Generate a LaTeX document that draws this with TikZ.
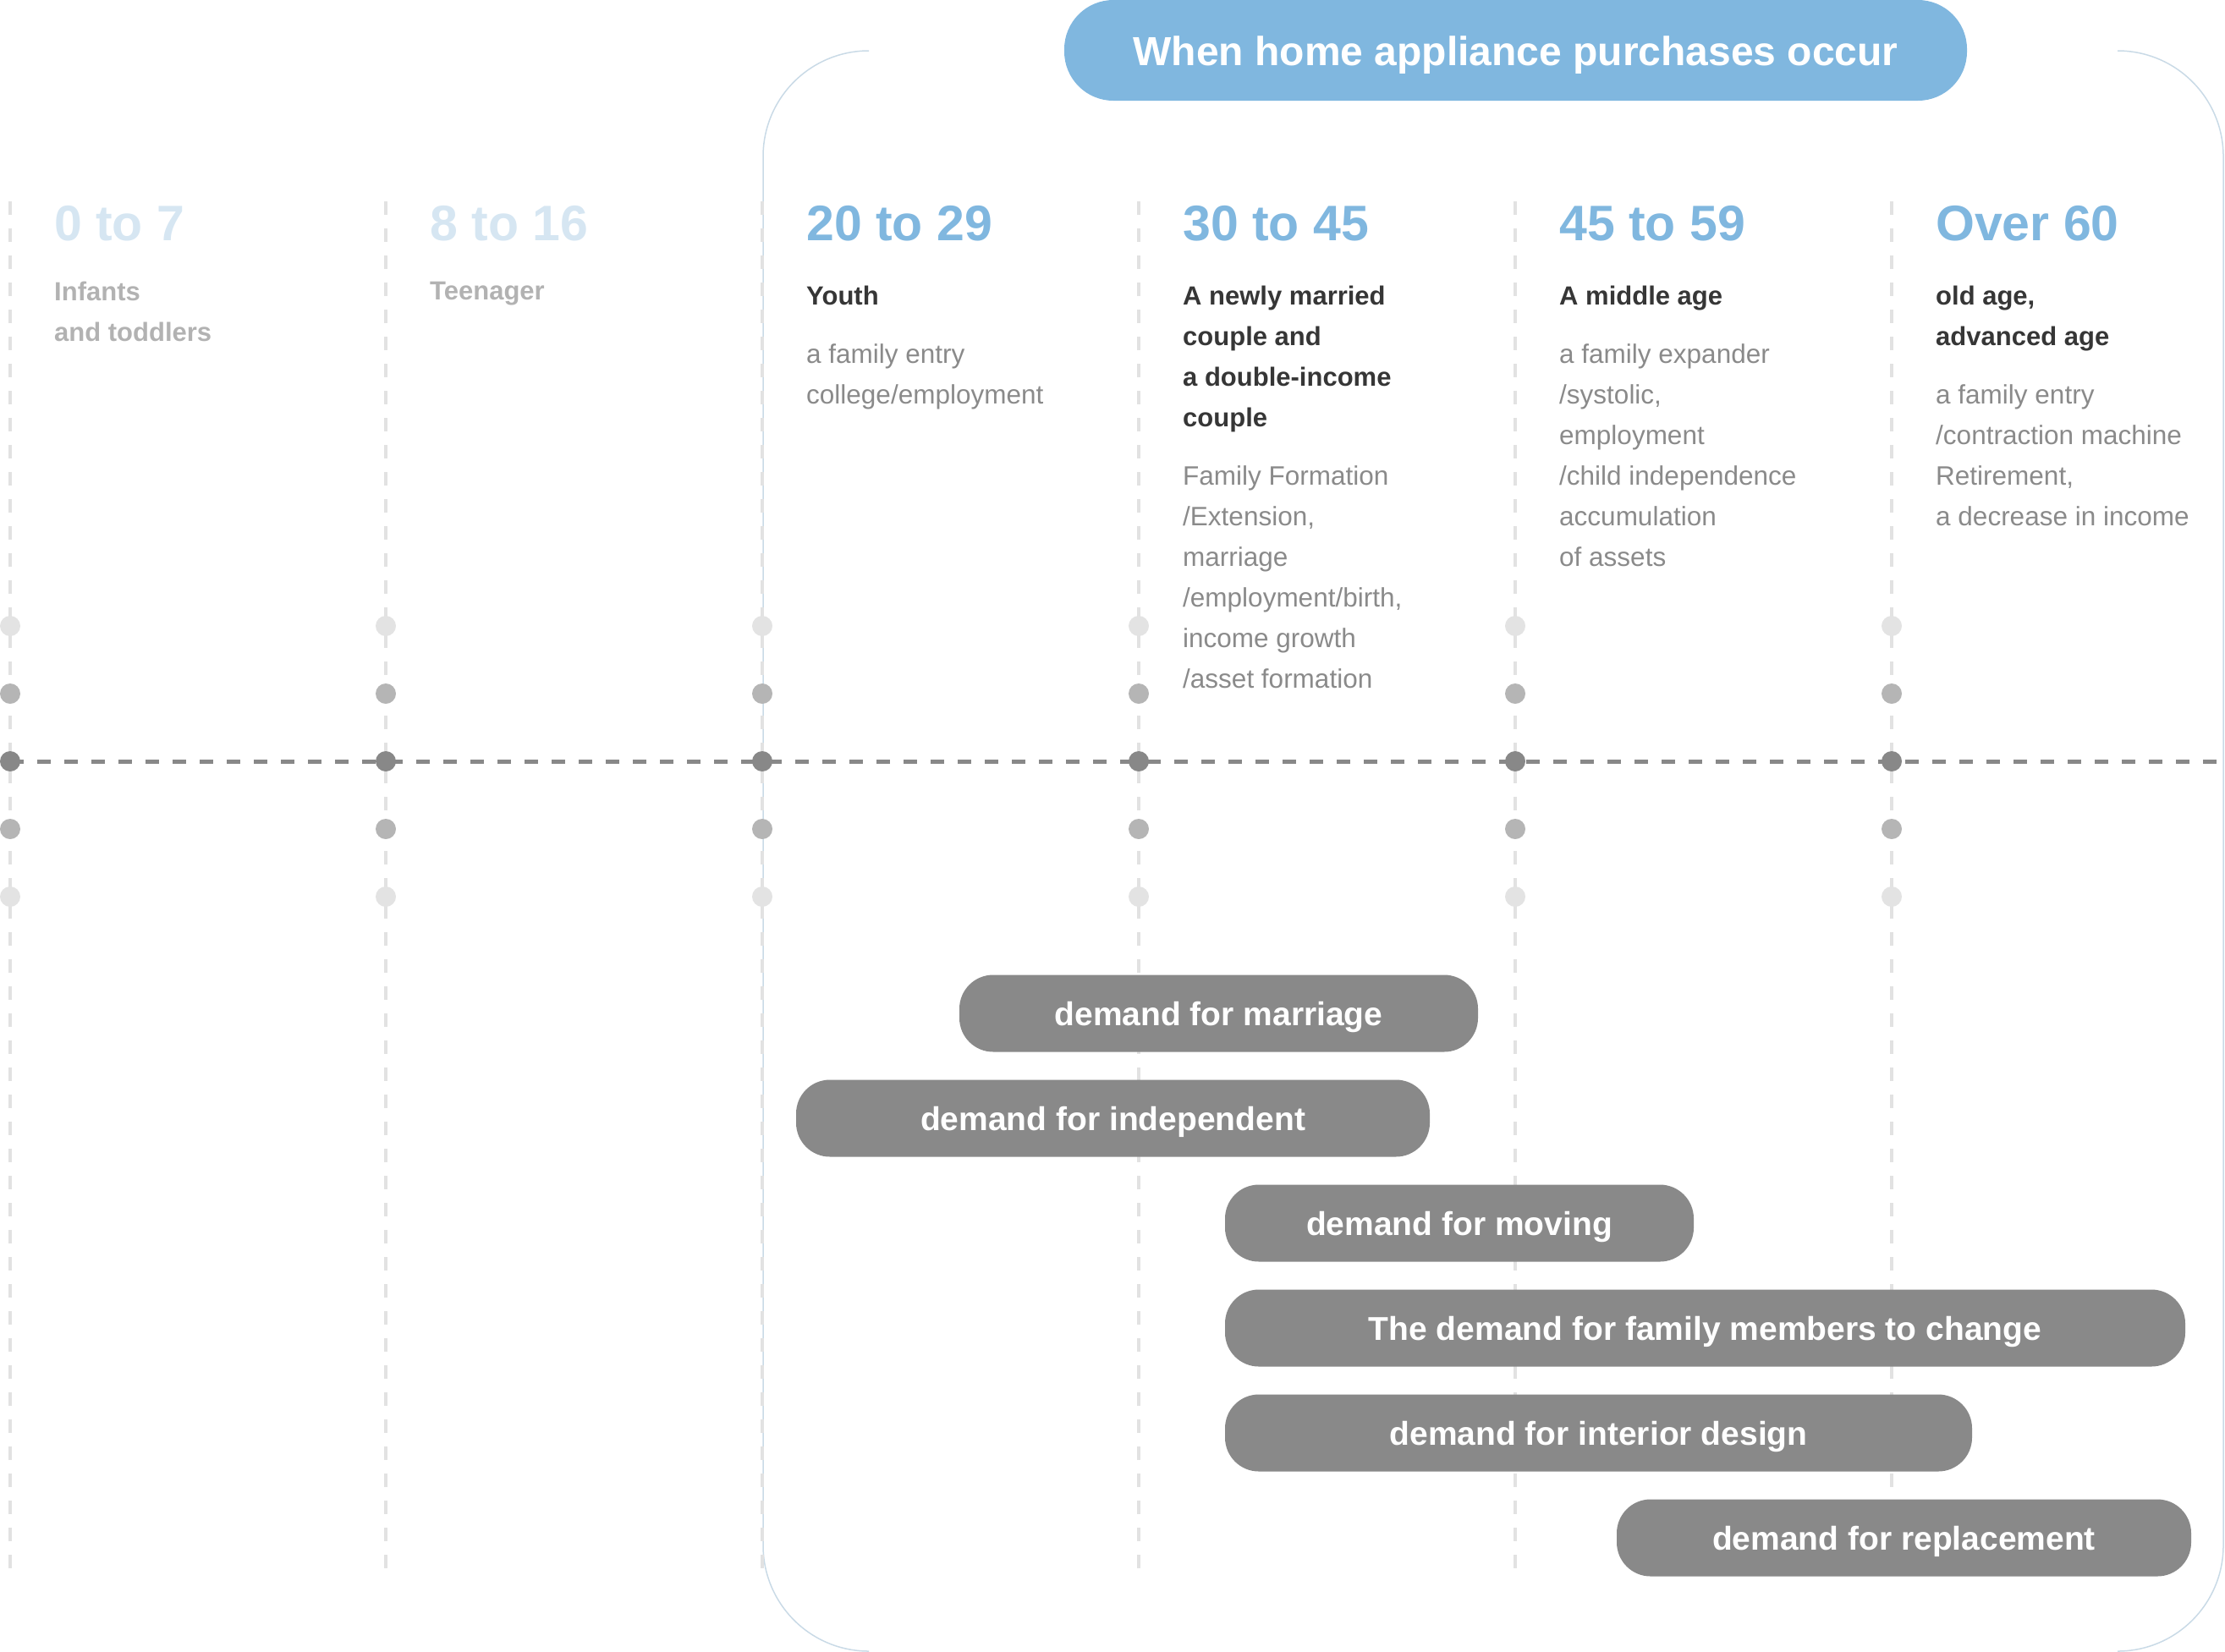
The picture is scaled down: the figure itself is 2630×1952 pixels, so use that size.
\documentclass[tikz,border=0pt]{standalone}
\usepackage{fontspec}
\setmainfont{Liberation Sans}

\definecolor{skyblue}{HTML}{80B7DF}
\definecolor{paleblue}{HTML}{D6E6F2}
\definecolor{vlinecol}{HTML}{E2E2E2}
\definecolor{framecol}{HTML}{C9DAE6}
\definecolor{barfill}{HTML}{898989}
\definecolor{dotdark}{HTML}{888888}
\definecolor{dotmid}{HTML}{B5B5B5}
\definecolor{dotlight}{HTML}{E3E3E3}
\definecolor{textdark}{HTML}{363636}
\definecolor{textgray}{HTML}{8A8A8A}
\definecolor{textfaint}{HTML}{B2B2B2}

\begin{document}
\begin{tikzpicture}[x=1pt,y=-1pt,
    vline/.style={vlinecol, line width=3.5, dash pattern=on 16pt off 16pt},
    hline/.style={dotdark, line width=5, dash pattern=on 16pt off 16pt},
    frame/.style={framecol, line width=1.5, rounded corners=125},
    header/.style={fill=skyblue, text=white, rounded corners=58, inner sep=0,
        minimum height=119, text height=36pt, text depth=0pt,
        font=\fontsize{48}{48}\selectfont\bfseries},
    age/.style={anchor=base west, inner sep=0, font=\fontsize{59}{60}\selectfont\bfseries},
    who/.style={anchor=north west, inner sep=0, align=left, text=textdark,
        font=\fontsize{31}{48}\selectfont\bfseries},
    what/.style={anchor=north west, inner sep=0, align=left, text=textgray,
        font=\fontsize{31.5}{48}\selectfont},
    demand/.style={fill=barfill, text=white, rounded corners=40, inner sep=0,
        minimum height=91, text height=28pt, text depth=0pt,
        font=\fontsize{39}{39}\selectfont\bfseries}]

\useasboundingbox (0,0) rectangle (2630,1952);

\draw[frame] (1027,60) -- (902,60) -- (902,1952) -- (1027,1952);
\draw[frame] (2505,60) -- (2628,60) -- (2628,1952) -- (2505,1952);

\foreach \x in {12,456,901,1346,1791,2236}
    \draw[vline] (\x,238) -- (\x,1866);

\draw[hline] (12,900) -- (2630,900);

\foreach \x in {12,456,901,1346,1791,2236} {
    \fill[dotlight] (\x,740) circle (12);
    \fill[dotmid]   (\x,820) circle (12);
    \fill[dotdark]  (\x,900) circle (12);
    \fill[dotmid]   (\x,980) circle (12);
    \fill[dotlight] (\x,1060) circle (12);
}

\node[header, minimum width=1067] (title) at (1791.5,59.5) {When home appliance purchases occur};

\node[age, text=paleblue] (age1) at (64,284)   {0 to 7};
\node[age, text=paleblue] (age2) at (508,284)  {8 to 16};
\node[age, text=skyblue]  (age3) at (953,284)  {20 to 29};
\node[age, text=skyblue]  (age4) at (1398,284) {30 to 45};
\node[age, text=skyblue]  (age5) at (1843,284) {45 to 59};
\node[age, text=skyblue]  (age6) at (2288,284) {Over 60};

\node[who, text=textfaint] (who1) at (64,333)  {Infants\\and toddlers};
\node[who, text=textfaint] (who2) at (508,333) {Teenager};
\node[who] (who3) at (953,338)  {Youth};
\node[who] (who4) at (1398,338) {A newly married\\couple and\\a double-income\\couple};
\node[who] (who5) at (1843,338) {A middle age};
\node[who] (who6) at (2288,338) {old age,\\advanced age};

\node[what] (what3) at (953,406)  {a family entry\\college/employment};
\node[what] (what4) at (1398,550) {Family Formation\\/Extension,\\marriage\\/employment/birth,\\income growth\\/asset formation};
\node[what] (what5) at (1843,406) {a family expander\\/systolic,\\employment\\/child independence\\accumulation\\of assets};
\node[what] (what6) at (2288,454) {a family entry\\/contraction machine\\Retirement,\\a decrease in income};

\node[demand, minimum width=613]  (marriage)    at (1440.5,1198) {demand for marriage};
\node[demand, minimum width=749]  (independent) at (1315.5,1322) {demand for independent};
\node[demand, minimum width=554]  (moving)      at (1725,1446)   {demand for moving};
\node[demand, minimum width=1135] (members)     at (2015.5,1570) {The demand for family members to change};
\node[demand, minimum width=883]  (interior)    at (1889.5,1694) {demand for interior design};
\node[demand, minimum width=679]  (replacement) at (2250.5,1818) {demand for replacement};

\end{tikzpicture}
\end{document}
